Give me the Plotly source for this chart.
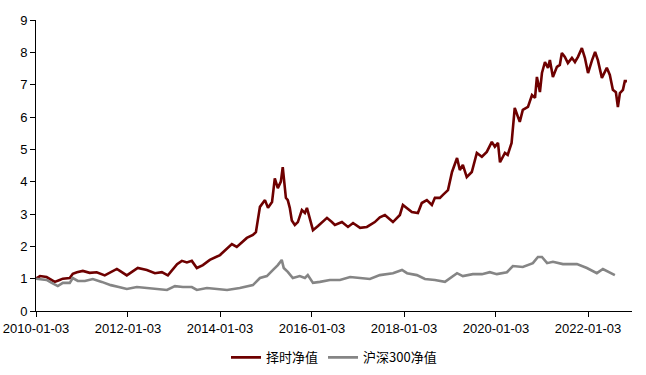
import plotly.graph_objects as go

# 择时净值 (timing strategy NAV)
timing_dates = [
    "2010-01-03", "2010-02-04", "2010-03-28", "2010-06-01", "2010-07-10", "2010-08-04",
    "2010-09-28", "2010-10-22", "2010-11-24", "2011-01-10", "2011-03-05", "2011-04-30",
    "2011-07-03", "2011-10-07", "2011-10-31", "2011-12-25", "2012-03-21", "2012-06-01",
    "2012-08-04", "2012-09-28", "2012-11-15", "2013-01-27", "2013-03-06", "2013-04-15",
    "2013-05-24", "2013-07-03", "2013-08-20", "2013-10-14", "2014-01-03", "2014-02-28",
    "2014-04-07", "2014-05-16", "2014-06-25", "2014-08-04", "2014-09-21", "2014-10-15",
    "2014-11-16", "2014-12-26", "2015-01-19", "2015-02-20", "2015-03-14", "2015-04-07",
    "2015-05-01", "2015-05-16", "2015-06-10", "2015-06-25", "2015-07-11", "2015-07-27",
    "2015-08-20", "2015-09-13", "2015-10-15", "2015-11-08", "2015-11-24", "2015-12-18",
    "2016-01-11", "2016-02-20", "2016-05-01", "2016-06-09", "2016-07-03", "2016-08-28",
    "2016-10-15", "2016-11-24", "2017-01-19", "2017-03-14", "2017-05-16", "2017-06-25",
    "2017-08-04", "2017-10-07", "2017-12-01", "2017-12-25", "2018-01-27", "2018-03-06",
    "2018-04-23", "2018-05-24", "2018-07-03", "2018-08-12", "2018-09-05", "2018-10-15",
    "2018-11-08", "2018-12-18", "2019-01-19", "2019-02-28", "2019-03-22", "2019-04-15",
    "2019-05-16", "2019-06-25", "2019-08-04", "2019-09-13", "2019-10-22", "2019-12-01",
    "2019-12-25", "2020-01-19", "2020-02-04", "2020-03-14", "2020-04-05", "2020-05-06",
    "2020-05-31", "2020-07-10", "2020-08-03", "2020-09-13", "2020-10-15", "2020-11-08",
    "2020-11-23", "2020-12-17", "2021-01-02", "2021-01-26", "2021-02-19", "2021-03-06",
    "2021-03-30", "2021-05-01", "2021-05-24", "2021-06-09", "2021-07-03", "2021-07-27",
    "2021-08-28", "2021-09-21", "2021-10-15", "2021-11-15", "2021-12-09", "2022-01-03",
    "2022-02-04", "2022-02-28", "2022-03-22", "2022-04-23", "2022-06-01", "2022-06-25",
    "2022-07-19", "2022-08-12", "2022-08-28", "2022-09-13", "2022-10-07", "2022-10-22",
    "2022-11-08",
]
timing_values = [
    1.00, 1.08, 1.05, 0.90, 0.96, 1.00,
    1.02, 1.15, 1.20, 1.24, 1.18, 1.20,
    1.10, 1.30, 1.24, 1.10, 1.33, 1.27,
    1.17, 1.20, 1.10, 1.45, 1.55, 1.50,
    1.55, 1.33, 1.42, 1.58, 1.73, 1.95,
    2.07, 1.98, 2.13, 2.26, 2.35, 2.44,
    3.22, 3.43, 3.19, 3.37, 4.10, 3.80,
    4.00, 4.45, 3.50, 3.43, 3.19, 2.80,
    2.66, 2.75, 3.12, 3.03, 3.19, 2.88,
    2.50, 2.63, 2.88, 2.75, 2.66, 2.75,
    2.60, 2.72, 2.57, 2.60, 2.75, 2.90,
    2.97, 2.75, 2.97, 3.28, 3.19, 3.06,
    3.03, 3.34, 3.43, 3.28, 3.50, 3.50,
    3.59, 3.74, 4.30, 4.73, 4.36, 4.52,
    4.14, 4.30, 4.89, 4.77, 4.92, 5.23,
    5.08, 5.20, 4.60, 4.89, 4.83, 5.20,
    6.28, 5.85, 6.22, 6.31, 6.68, 6.59,
    7.24, 6.77, 7.36, 7.70, 7.52, 7.76,
    7.24, 7.55, 7.61, 7.98, 7.86, 7.67,
    7.83, 7.70, 7.86, 8.13, 7.83, 7.36,
    7.76, 8.01, 7.76, 7.21, 7.52, 7.30,
    6.84, 6.77, 6.31, 6.74, 6.84, 7.11,
    7.11,
]

# 沪深300净值 (CSI 300 NAV)
hs300_dates = [
    "2010-01-03", "2010-03-28", "2010-05-08", "2010-06-25", "2010-08-04", "2010-09-28",
    "2010-10-22", "2010-12-01", "2011-01-26", "2011-03-30", "2011-06-09", "2011-08-20",
    "2011-10-22", "2011-12-25", "2012-03-14", "2012-06-01", "2012-08-20", "2012-11-08",
    "2013-01-10", "2013-03-14", "2013-05-24", "2013-07-03", "2013-09-21", "2013-12-09",
    "2014-02-28", "2014-06-09", "2014-09-21", "2014-11-16", "2015-01-10", "2015-02-28",
    "2015-04-07", "2015-05-08", "2015-05-24", "2015-06-25", "2015-08-04", "2015-09-28",
    "2015-11-08", "2015-12-01", "2016-01-11", "2016-03-06", "2016-05-24", "2016-08-12",
    "2016-11-01", "2017-01-19", "2017-04-07", "2017-06-25", "2017-10-07", "2017-12-18",
    "2018-01-27", "2018-04-15", "2018-06-18", "2018-09-05", "2018-11-24", "2019-02-28",
    "2019-04-15", "2019-07-03", "2019-09-13", "2019-11-15", "2020-01-10", "2020-03-30",
    "2020-05-16", "2020-08-03", "2020-10-22", "2020-12-01", "2021-01-02", "2021-02-12",
    "2021-03-30", "2021-06-18", "2021-10-07", "2021-12-25", "2022-03-14", "2022-05-01",
    "2022-06-25", "2022-08-04",
]
hs300_values = [
    1.00, 0.96, 0.87, 0.77, 0.87, 0.87,
    1.02, 0.93, 0.93, 0.99, 0.90, 0.80,
    0.74, 0.68, 0.74, 0.71, 0.68, 0.65,
    0.77, 0.74, 0.74, 0.65, 0.71, 0.68,
    0.65, 0.71, 0.80, 1.02, 1.08, 1.27,
    1.42, 1.58, 1.33, 1.21, 1.02, 1.08,
    1.02, 1.11, 0.87, 0.90, 0.96, 0.96,
    1.05, 1.02, 0.99, 1.11, 1.17, 1.27,
    1.17, 1.11, 0.99, 0.96, 0.90, 1.17,
    1.08, 1.14, 1.14, 1.20, 1.14, 1.20,
    1.39, 1.36, 1.48, 1.67, 1.67, 1.48,
    1.52, 1.45, 1.45, 1.33, 1.17, 1.30,
    1.20, 1.11,
]

x_tick_labels = ["2010-01-03", "2012-01-03", "2014-01-03", "2016-01-03",
                 "2018-01-03", "2020-01-03", "2022-01-03"]
y_tick_values = [0, 1, 2, 3, 4, 5, 6, 7, 8, 9]

fig = go.Figure()
fig.add_trace(go.Scatter(
    x=timing_dates, y=timing_values, mode="lines", name="择时净值",
    line=dict(color="#6E0000", width=2.6),
))
fig.add_trace(go.Scatter(
    x=hs300_dates, y=hs300_values, mode="lines", name="沪深300净值",
    line=dict(color="#858585", width=2.6),
))

fig.update_layout(
    width=646, height=375,
    margin=dict(l=36, r=14, t=20, b=64, autoexpand=False),
    paper_bgcolor="white", plot_bgcolor="white",
    font=dict(family="Liberation Sans, Arial, Noto Sans CJK SC", size=13, color="#000000"),
    showlegend=True,
    legend=dict(
        orientation="h", x=0.5, xanchor="center", y=-0.108, yanchor="top",
        font=dict(family="Noto Sans CJK SC, Liberation Sans", size=13, color="#000000"),
        itemwidth=30, tracegroupgap=0, bgcolor="rgba(0,0,0,0)",
    ),
)
fig.update_xaxes(
    type="date", automargin=False,
    range=["2010-01-03", "2022-12-18"],
    tickvals=x_tick_labels, ticktext=x_tick_labels,
    showgrid=False, zeroline=False,
    showline=True, linecolor="#000000", linewidth=1,
    ticks="outside", ticklen=5, tickcolor="#000000", tickwidth=1,
    tickfont=dict(size=13, color="#000000"),
)
fig.update_yaxes(
    range=[0, 9], tickvals=y_tick_values, automargin=False,
    showgrid=False, zeroline=False,
    showline=True, linecolor="#000000", linewidth=1,
    ticks="outside", ticklen=5, tickcolor="#000000", tickwidth=1,
    tickfont=dict(size=13, color="#000000"),
)

fig.write_html(
    "out.html",
    config={"displayModeBar": False},
    post_script="document.body.style.margin='0';document.body.style.overflow='hidden';",
)
